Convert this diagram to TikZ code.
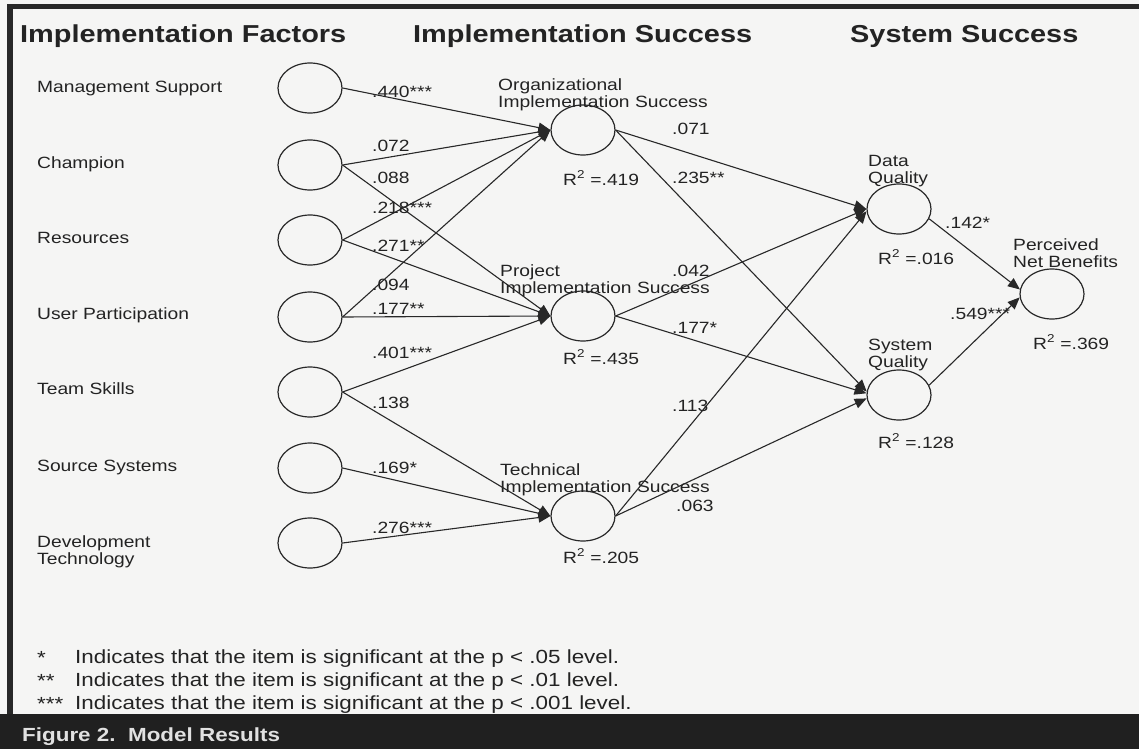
\documentclass[tikz,border=0pt]{standalone}
\usepackage{fontspec}
\setmainfont{Liberation Sans}[FakeStretch=1.18]
\usetikzlibrary{arrows.meta,shapes.geometric}
\definecolor{bg}{RGB}{245,245,244}
\definecolor{ln}{RGB}{40,40,40}
\definecolor{tx}{RGB}{35,35,35}
\definecolor{band}{RGB}{32,32,32}
\definecolor{bandtx}{RGB}{225,225,225}
\begin{document}
\begin{tikzpicture}[x=1pt,y=-1pt,
  lat/.style={draw=ln, line width=1.2pt, ellipse, minimum width=64pt, minimum height=50pt, inner sep=0pt},
  conn/.style={draw=ln, line width=1.1pt, -{Triangle[length=12pt,width=10pt]}},
  txt/.style={anchor=base west, inner sep=0pt, text=tx, font=\fontsize{16.3}{17}\selectfont},
  hdr/.style={anchor=base west, inner sep=0pt, text=tx, font=\fontsize{24.5}{28}\selectfont\bfseries},
  leg/.style={anchor=base west, inner sep=0pt, text=tx, font=\fontsize{19}{22}\selectfont}
]
\useasboundingbox (0,0) rectangle (1139,749);
\fill[bg] (0,0) rectangle (1139,749);
% frame
\fill[ln] (7,4) rectangle (1139,9);
\fill[ln] (7,4) rectangle (13,714);
\fill[band] (0,714) rectangle (1139,749);
\node[anchor=base west, inner sep=0pt, text=bandtx, font=\fontsize{19}{22}\selectfont\bfseries] (fig) at (22,741) {Figure 2.\ \ Model Results};

% headers
\node[hdr] (h1) at (20,43) {Implementation Factors};
\node[hdr] (h2) at (413,43) {Implementation Success};
\node[hdr] (h3) at (850,43) {System Success};

% left latent variables
\node[lat] (f1) at (310,88) {};
\node[lat] (f2) at (310,165) {};
\node[lat] (f3) at (310,240) {};
\node[lat] (f4) at (310,317) {};
\node[lat] (f5) at (310,392) {};
\node[lat] (f6) at (310,468) {};
\node[lat] (f7) at (310,543) {};
\node[txt] (l1) at (37,93) {Management Support};
\node[txt] (l2) at (37,168) {Champion};
\node[txt] (l3) at (37,243) {Resources};
\node[txt] (l4) at (37,319) {User Participation};
\node[txt] (l5) at (37,394) {Team Skills};
\node[txt] (l6) at (37,471) {Source Systems};
\node[txt] (l7a) at (37,547) {Development};
\node[txt] (l7b) at (37,564) {Technology};

% middle
\node[lat] (org) at (583,130) {};
\node[lat] (proj) at (583,316) {};
\node[lat] (tech) at (583,516) {};
\node[txt] (orga) at (498,91) {Organizational};
\node[txt] (orgb) at (498,108) {Implementation Success};
\node[txt] (orgr) at (563,185) {R\textsuperscript{2} =.419};
\node[txt] (proja) at (500,276) {Project};
\node[txt] (projb) at (500,293) {Implementation Success};
\node[txt] (projr) at (563,364) {R\textsuperscript{2} =.435};
\node[txt] (techa) at (500,475) {Technical};
\node[txt] (techb) at (500,492) {Implementation Success};
\node[txt] (techr) at (563,563) {R\textsuperscript{2} =.205};

% right
\node[lat] (dq) at (899,209) {};
\node[lat] (sq) at (899,395) {};
\node[lat] (pnb) at (1052,294) {};
\node[txt] (dqa) at (868,166) {Data};
\node[txt] (dqb) at (868,183) {Quality};
\node[txt] (dqr) at (878,264) {R\textsuperscript{2} =.016};
\node[txt] (sqa) at (868,350) {System};
\node[txt] (sqb) at (868,367) {Quality};
\node[txt] (sqr) at (878,448) {R\textsuperscript{2} =.128};
\node[txt] (pnba) at (1013,250) {Perceived};
\node[txt] (pnbb) at (1013,267) {Net Benefits};
\node[txt] (pnbr) at (1033,349) {R\textsuperscript{2} =.369};

% connectors
\draw[conn] (f1.east) -- (org.west);
\draw[conn] (f2.east) -- (org.west);
\draw[conn] (f3.east) -- (org.west);
\draw[conn] (f4.east) -- (org.west);
\draw[conn] (f2.east) -- (proj.west);
\draw[conn] (f3.east) -- (proj.west);
\draw[conn] (f4.east) -- (proj.west);
\draw[conn] (f5.east) -- (proj.west);
\draw[conn] (f5.east) -- (tech.west);
\draw[conn] (f6.east) -- (tech.west);
\draw[conn] (f7.east) -- (tech.west);
\draw[conn] (org.east) -- (dq.west);
\draw[conn] (org.east) -- (sq.174);
\draw[conn] (proj.east) -- (dq.west);
\draw[conn] (proj.east) -- (sq.177);
\draw[conn] (tech.east) -- (dq.184);
\draw[conn] (tech.east) -- (sq.186);
\draw[conn] (dq.-18) -- (pnb.172);
\draw[conn] (sq.18) -- (pnb.186);

% path coefficients
\node[txt] (w1) at (372,98) {.440***};
\node[txt] (w2) at (372,151) {.072};
\node[txt] (w3) at (372,183) {.088};
\node[txt] (w4) at (372,213) {.218***};
\node[txt] (w5) at (372,251) {.271**};
\node[txt] (w6) at (372,290) {.094};
\node[txt] (w7) at (372,314) {.177**};
\node[txt] (w8) at (372,358) {.401***};
\node[txt] (w9) at (372,408) {.138};
\node[txt] (w10) at (372,473) {.169*};
\node[txt] (w11) at (372,533) {.276***};
\node[txt] (w12) at (672,134) {.071};
\node[txt] (w13) at (672,183) {.235**};
\node[txt] (w14) at (672,276) {.042};
\node[txt] (w15) at (672,333) {.177*};
\node[txt] (w16) at (672,411) {.113};
\node[txt] (w17) at (676,511) {.063};
\node[txt] (w18) at (945,228) {.142*};
\node[txt] (w19) at (950,319) {.549***};

% legend
\node[leg] (s1) at (37,664) {*};
\node[leg] (s2) at (37,687) {**};
\node[leg] (s3) at (37,710) {***};
\node[leg] (t1) at (75,663) {Indicates that the item is significant at the p < .05 level.};
\node[leg] (t2) at (75,686) {Indicates that the item is significant at the p < .01 level.};
\node[leg] (t3) at (75,709) {Indicates that the item is significant at the p < .001 level.};
\end{tikzpicture}
\end{document}
